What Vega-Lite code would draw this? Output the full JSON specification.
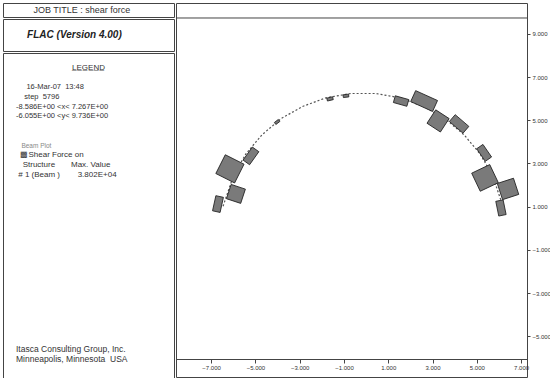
{
  "$schema": "https://vega.github.io/schema/vega-lite/v6.json",
  "padding": {"left": 2, "top": 2, "right": 0, "bottom": 0},
  "background": "white",
  "spacing": 0,
  "config": {
    "view": {"stroke": "#444", "strokeWidth": 1},
    "text": {"font": "Liberation Sans"},
    "axis": {"labelFont": "Liberation Sans"},
    "concat": {"spacing": 0}
  },
  "datasets": {
    "panel": [
      {"section": "job title", "col": "label", "text": "\u200b\u00a0\u00a0\u00a0\u00a0\u00a0\u00a0\u00a0JOB TITLE : shear force"},
      {"section": "program", "col": "label", "text": "\u200b\u00a0\u00a0\u00a0\u00a0FLAC (Version 4.00)"},
      {"section": "legend heading", "col": "label", "line": 1, "text": "L\u0332E\u0332G\u0332E\u0332N\u0332D\u0332"},
      {"section": "plot info", "col": "label", "line": 3, "text": "\u200b\u00a0\u00a0\u00a0\u00a0\u00a016-Mar-07\u00a0\u00a013:48"},
      {"section": "plot info", "col": "label", "line": 4, "text": "\u200b\u00a0\u00a0\u00a0\u00a0step\u00a0\u00a05796"},
      {"section": "plot info", "col": "label", "line": 5, "text": "-8.586E+00 <x< 7.267E+00"},
      {"section": "plot info", "col": "label", "line": 6, "text": "-6.055E+00 <y< 9.736E+00"},
      {"section": "plot heading", "col": "label", "line": 9, "text": "\u200b\u00a0\u00a0\u00a0Beam Plot"},
      {"section": "plot items", "col": "label", "line": 10, "text": "\u200b\u00a0\u00a0\u25a9Shear Force on"},
      {"section": "plot items", "col": "label", "line": 11, "text": "\u200b\u00a0\u00a0\u00a0Structure"},
      {"section": "plot items", "col": "value", "line": 11, "text": "Max. Value"},
      {"section": "plot items", "col": "label", "line": 12, "text": "\u200b\u00a0# 1 (Beam )"},
      {"section": "plot items", "col": "value", "line": 12, "text": "\u200b\u00a0\u00a0\u00a03.802E+04"},
      {"section": "credit", "col": "label", "line": 30, "text": "Itasca Consulting Group, Inc."},
      {"section": "credit", "col": "label", "line": 31, "text": "Minneapolis, Minnesota\u00a0\u00a0USA"}
    ],
    "beam": [
      {"x": -6.46, "y": 1.02},
      {"x": -5.99, "y": 2.44},
      {"x": -5.43, "y": 3.44},
      {"x": -4.71, "y": 4.32},
      {"x": -3.85, "y": 5.07},
      {"x": -2.87, "y": 5.64},
      {"x": -1.81, "y": 6.04},
      {"x": -0.70, "y": 6.24},
      {"x": 0.43, "y": 6.24},
      {"x": 1.53, "y": 6.04},
      {"x": 2.59, "y": 5.64},
      {"x": 3.57, "y": 5.07},
      {"x": 4.43, "y": 4.32},
      {"x": 5.15, "y": 3.44},
      {"x": 5.71, "y": 2.44},
      {"x": 6.18, "y": 1.02}
    ],
    "forces": [
      {"x": -6.15, "y": 2.75, "force": 38020, "beam_angle": 116.7},
      {"x": -5.88, "y": 1.59, "force": 27160, "beam_angle": 108.3},
      {"x": -6.69, "y": 1.12, "force": 14000, "beam_angle": 102.4},
      {"x": -5.20, "y": 3.35, "force": 14480, "beam_angle": 125.5},
      {"x": -4.02, "y": 4.92, "force": 4500, "beam_angle": 143},
      {"x": -1.63, "y": 5.99, "force": 5400, "beam_angle": 166.5},
      {"x": -0.91, "y": 6.13, "force": 5000, "beam_angle": 173.1},
      {"x": 1.58, "y": 5.89, "force": 12670, "beam_angle": 15.7},
      {"x": 2.62, "y": 5.89, "force": 21730, "beam_angle": 24.3},
      {"x": 3.25, "y": 4.97, "force": 28970, "beam_angle": 33.1},
      {"x": 4.20, "y": 4.83, "force": 16290, "beam_angle": 40.6},
      {"x": 5.33, "y": 3.49, "force": 13800, "beam_angle": 55.6},
      {"x": 5.37, "y": 2.33, "force": 36210, "beam_angle": 64.6},
      {"x": 6.41, "y": 1.82, "force": 30780, "beam_angle": 72},
      {"x": 6.09, "y": 0.94, "force": 13580, "beam_angle": 78.5}
    ]
  },
  "hconcat": [
    {
      "spacing": 0,
      "vconcat": [
        {
          "width": 171,
          "height": 14,
          "data": {"name": "panel"},
          "transform": [{"filter": "datum.section === 'job title'"}],
          "mark": {"type": "text", "align": "left", "baseline": "middle", "fontSize": 9, "color": "#333"},
          "encoding": {
            "x": {"field": "col", "type": "nominal", "scale": {"type": "point", "domain": ["label", "value"], "range": [13, 68], "padding": 0}, "axis": null},
            "text": {"field": "text"}
          }
        },
        {
          "width": 171,
          "height": 32,
          "data": {"name": "panel"},
          "transform": [{"filter": "datum.section === 'program'"}],
          "mark": {"type": "text", "align": "left", "baseline": "middle", "fontSize": 10, "fontWeight": "bold", "fontStyle": "italic", "color": "#222"},
          "encoding": {
            "x": {"field": "col", "type": "nominal", "scale": {"type": "point", "domain": ["label", "value"], "range": [13, 68], "padding": 0}, "axis": null},
            "text": {"field": "text"}
          }
        },
        {
          "width": 171,
          "height": 328,
          "data": {"name": "panel"},
          "layer": [
            {
              "transform": [{"filter": "datum.section === 'legend heading'"}],
              "mark": {"type": "text", "align": "center", "baseline": "middle", "fontSize": 8, "color": "#333"},
              "encoding": {
                "y": {"field": "line", "type": "quantitative", "scale": {"domain": [-0.546, 33.268], "reverse": true, "nice": false, "zero": false}, "axis": null},
                "text": {"field": "text"}
              }
            },
            {
              "transform": [{"filter": "datum.section === 'plot info'"}],
              "mark": {"type": "text", "align": "left", "baseline": "middle", "fontSize": 7.5, "color": "#333"},
              "encoding": {
                "x": {"field": "col", "type": "nominal", "scale": {"type": "point", "domain": ["label", "value"], "range": [13, 68], "padding": 0}, "axis": null},
                "y": {"field": "line", "type": "quantitative", "scale": {"domain": [-0.546, 33.268], "reverse": true, "nice": false, "zero": false}, "axis": null},
                "text": {"field": "text"}
              }
            },
            {
              "transform": [{"filter": "datum.section === 'plot heading'"}],
              "mark": {"type": "text", "align": "left", "baseline": "middle", "fontSize": 6.5, "color": "#888"},
              "encoding": {
                "x": {"field": "col", "type": "nominal", "scale": {"type": "point", "domain": ["label", "value"], "range": [13, 68], "padding": 0}, "axis": null},
                "y": {"field": "line", "type": "quantitative", "scale": {"domain": [-0.546, 33.268], "reverse": true, "nice": false, "zero": false}, "axis": null},
                "text": {"field": "text"}
              }
            },
            {
              "transform": [{"filter": "datum.section === 'plot items'"}],
              "mark": {"type": "text", "align": "left", "baseline": "middle", "fontSize": 8, "color": "#333"},
              "encoding": {
                "x": {"field": "col", "type": "nominal", "scale": {"type": "point", "domain": ["label", "value"], "range": [13, 68], "padding": 0}, "axis": null},
                "y": {"field": "line", "type": "quantitative", "scale": {"domain": [-0.546, 33.268], "reverse": true, "nice": false, "zero": false}, "axis": null},
                "text": {"field": "text"}
              }
            },
            {
              "transform": [{"filter": "datum.section === 'credit'"}],
              "mark": {"type": "text", "align": "left", "baseline": "middle", "fontSize": 8.5, "color": "#333"},
              "encoding": {
                "x": {"field": "col", "type": "nominal", "scale": {"type": "point", "domain": ["label", "value"], "range": [13, 68], "padding": 0}, "axis": null},
                "y": {"field": "line", "type": "quantitative", "scale": {"domain": [-0.546, 33.268], "reverse": true, "nice": false, "zero": false}, "axis": null},
                "text": {"field": "text"}
              }
            }
          ]
        }
      ]
    },
    {
      "width": 351,
      "height": 374,
      "layer": [
        {
          "data": {"values": [{}]},
          "mark": {"type": "rule", "color": "#444", "strokeWidth": 1},
          "encoding": {
            "y": {"datum": 9.736, "type": "quantitative", "scale": {"domain": [-6.888, 10.43], "nice": false, "zero": false},
              "axis": {"orient": "right", "values": [9, 7, 5, 3, 1, -1, -3, -5], "format": ".3f", "title": null, "grid": false, "domain": false, "tickColor": "#444", "tickSize": 3, "labelFontSize": 6, "labelColor": "#333", "labelPadding": 2}}
          }
        },
        {
          "data": {"name": "beam"},
          "mark": {"type": "line", "color": "#555", "strokeWidth": 1.2, "strokeDash": [2, 2]},
          "encoding": {
            "x": {"field": "x", "type": "quantitative", "scale": {"domain": [-8.586, 7.267], "nice": false, "zero": false},
              "axis": {"orient": "bottom", "offset": -18, "values": [-7, -5, -3, -1, 1, 3, 5, 7], "format": ".3f", "title": null, "grid": false, "domainColor": "#444", "tickColor": "#444", "tickSize": 4, "labelFontSize": 6, "labelColor": "#333", "labelPadding": 1}},
            "y": {"field": "y", "type": "quantitative", "scale": {"domain": [-6.888, 10.43], "nice": false, "zero": false},
              "axis": {"orient": "right", "values": [9, 7, 5, 3, 1, -1, -3, -5], "format": ".3f", "title": null, "grid": false, "domain": false, "tickColor": "#444", "tickSize": 3, "labelFontSize": 6, "labelColor": "#333", "labelPadding": 2}}
          }
        },
        {
          "data": {"name": "forces"},
          "transform": [{"filter": "datum.force >= 25000"}],
          "mark": {"type": "point", "shape": "square", "filled": true, "fill": "#7a7a7a", "stroke": "#222", "strokeWidth": 0.8, "opacity": 1},
          "encoding": {
            "x": {"field": "x", "type": "quantitative"},
            "y": {"field": "y", "type": "quantitative"},
            "size": {"field": "force", "type": "quantitative", "scale": {"type": "pow", "exponent": 2, "domain": [0, 38020], "range": [0, 441]}, "legend": null},
            "angle": {"field": "beam_angle", "type": "quantitative", "scale": null}
          }
        },
        {
          "data": {"name": "forces"},
          "transform": [{"filter": "datum.force < 25000"}],
          "mark": {"type": "point", "shape": "M-1,-0.5H1V0.5H-1Z", "filled": true, "fill": "#7a7a7a", "stroke": "#222", "strokeWidth": 0.8, "opacity": 1},
          "encoding": {
            "x": {"field": "x", "type": "quantitative"},
            "y": {"field": "y", "type": "quantitative"},
            "size": {"field": "force", "type": "quantitative", "scale": {"type": "pow", "exponent": 2, "domain": [0, 38020], "range": [0, 1764]}, "legend": null},
            "angle": {"field": "beam_angle", "type": "quantitative", "scale": null}
          }
        }
      ],
      "resolve": {"scale": {"size": "independent"}}
    }
  ]
}
